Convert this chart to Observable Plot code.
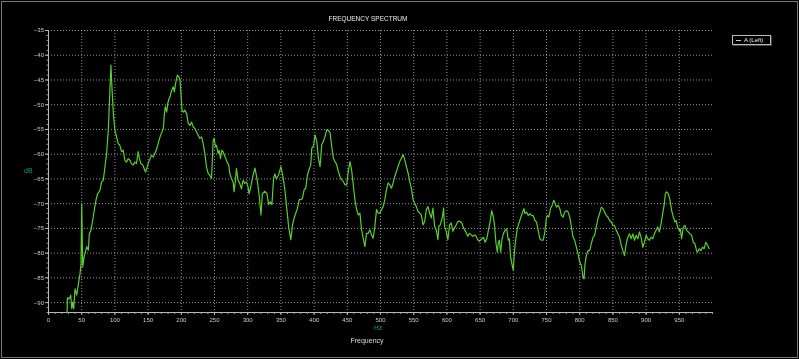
<!DOCTYPE html>
<html><head><meta charset="utf-8">
<script src="https://cdn.jsdelivr.net/npm/d3@7"></script>
<script src="https://cdn.jsdelivr.net/npm/@observablehq/plot@0.6"></script>
<style>
html,body{margin:0;padding:0;background:#000;}
#wrap{position:relative;width:799px;height:359px;background:#000;overflow:hidden;font-family:"Liberation Sans",Arial,sans-serif;opacity:0.999;will-change:transform;-webkit-font-smoothing:antialiased;}
.lbl{position:absolute;white-space:nowrap;line-height:1;}
#frame{position:absolute;left:1px;top:1px;width:795px;height:355px;border:1px solid #777;pointer-events:none;}
</style></head><body>
<div id="wrap">
<div id="chart"></div>
<div class="lbl" id="title" style="left:368px;top:16px;transform:translateX(-50%);font-size:6.5px;color:#eee;">FREQUENCY SPECTRUM</div>
<div class="lbl" id="ylab" style="left:24px;top:167px;font-size:7px;color:#1f9a90;">dB</div>
<div class="lbl" id="xunit" style="left:378px;top:325px;transform:translateX(-50%);font-size:6.5px;color:#1f9a90;">Hz</div>
<div class="lbl" id="xlab" style="left:367px;top:337px;transform:translateX(-50%);font-size:7px;color:#ddd;">Frequency</div>
<div class="lbl" id="legend" style="left:732px;top:35px;width:37px;height:8px;border:1px solid #bbb;background:#000;box-shadow:1px 1px 0 #444;">
  <span style="position:absolute;left:3px;top:4px;width:5px;height:1px;background:#ccc;"></span>
  <span style="position:absolute;left:11px;top:1px;font-size:6px;color:#eee;">A (Left)</span>
</div>
<div id="frame"></div>
</div>
<script>
const freqHz = [28,28.5,31,33.5,35,36.5,38,40,42.5,45,47.5,49,50,51.5,53.5,55,57.5,60,61.5,64,66.5,69,71.5,74,77.5,80,82.5,85,87.5,90,92.5,94,95.5,97.5,100,102.5,105,107.5,110,112.5,115,117.5,120,122.5,125,127.5,130,132.5,135,137,139,142,144,146,148,150,153,155,158,160,163,165,168,170,173,174.5,176,178,179.5,181.5,183,185.5,188,189.5,191.5,194,196.5,198,199.5,201,203,205.5,208,210.5,213,215.5,218,220.5,223,225.5,228,230.5,233,235.5,238,240.5,243,245.5,248,249.5,251.5,253,255.5,257,259,261,263,265,267,269,271.5,273,275.5,278,279.5,281.5,283,285.5,288,290.5,293,295.5,298,300.5,302,
304,308,311,314,317,320,322,326,329,331.5,334,336.5,339,341,343,346.5,350,353,356,359,362,365,367.5,370,372.5,375,377.5,380,382.5,385,387.5,390,392.5,395,396.5,399,401.5,404,406.5,409,411.5,414,416.5,419,421.5,424,426.5,429,431.5,434,436.5,439,441.5,444,446.5,449,451.5,454,456.5,459,461.5,464,466.5,469,471.5,474,476.5,479,481.5,484,486.5,489,491.5,494,496.5,499,501.5,504,506.5,509,511.5,514,516.5,519,521.5,524,526.5,529,531.5,534,536.5,539,541.5,544,546.5,549,551.5,554,556.5,559,561.5,564,566.5,569,571.5,574,576.5,579,581.5,584,586.5,588,590,593,595,596.5,599,601.5,604,606.5,609,611.5,614,616.5,620,622.5,625,628,631.5,634,636.5,639,641.5,644,646.5,649,
652.5,655,657.5,660,662.5,665,667.5,670,671.5,674,676,677.5,679,681,683,685,687.5,690,692.5,694,696,698,700,701.5,703.5,706,709,711.5,714,716,717.5,720,722.5,725,727.5,730,732.5,735,737.5,740,742.5,745,747.5,750,751.5,753.5,756,758.5,761,763,765,767.5,770,772.5,775,777.5,780,782.5,785,787.5,790,792.5,795,797.5,800,802.5,805,806.5,808,810,812.5,815,817.5,820,822.5,825,827.5,830,832.5,835,837.5,840,842.5,845,847.5,850,852.5,855,857.5,860,862.5,865,867.5,870,872.5,875,877.5,880,882.5,885,887.5,890,892.5,895,897.5,900,902.5,905,907.5,910,912.5,915,917.5,920,922.5,925,927.5,929,931,933.5,936,938.5,941,943.5,945,947.5,950,951.5,953.5,956,958.5,961,963.5,966,968.5,971,973.5,976,977.5,980,982.5,985,987.5,990,992.5,995];
const levelDb = [-92,-89,-89.3,-88.5,-91.2,-89.9,-91.2,-87.2,-88.5,-86.2,-84.1,-82.1,-70,-82.8,-80.8,-80.1,-78.7,-79.4,-76,-75.4,-73.4,-71.3,-69.3,-68,-67.3,-65.6,-65.3,-62.6,-59.9,-55.2,-47.1,-42,-46.4,-51.5,-55.2,-56.5,-57.9,-58.2,-59.5,-59.2,-61.2,-61.6,-60.9,-61.2,-61.9,-62.2,-61.6,-61.9,-59.5,-60.9,-61.9,-62.2,-62.9,-63.6,-62.9,-61.9,-60.9,-60.2,-60.6,-59.9,-58.9,-57.9,-56.5,-55.8,-54.8,-51.8,-50.4,-51.5,-49.8,-48.8,-48.4,-47.1,-46.4,-47.4,-45.7,-44,-44.4,-45.1,-47.7,-51.1,-51.5,-51.1,-51.8,-53.8,-54.2,-53.5,-54.5,-54.8,-55.5,-56.2,-56.8,-56.5,-57.9,-59.9,-62.6,-63.9,-64.3,-64.9,-57.2,-56.8,-58.5,-58.2,-59.9,-59.2,-60.9,-59.2,-59.5,-60.2,-60.9,-61.6,-62.2,-63.9,-64.9,-65.6,-67.6,-65.3,-62.9,-65.3,-65.9,-67,-65.3,-65.9,-65.6,-66.6,-68,
-67,-64.3,-62.8,-65,-68,-72.3,-68,-67.5,-68,-70.2,-69.6,-70.2,-64.8,-64,-65,-64.2,-62.5,-64.5,-67.2,-71.2,-75,-77.3,-74.3,-72.9,-71.9,-70.9,-69.2,-69.2,-68.9,-67.2,-66.9,-64.2,-63.1,-62.1,-58.8,-58.4,-56.1,-57.4,-60.8,-62.5,-58.1,-57.4,-56.4,-55.1,-55.2,-55.7,-58.4,-60.8,-61.5,-62.1,-63.5,-64.5,-65.2,-65.5,-66.2,-66.2,-63.5,-61.5,-63.2,-66.2,-69.2,-71.2,-72.3,-71.9,-75.3,-77,-78.7,-76,-76,-75.3,-76.3,-77,-74.6,-71.2,-71.9,-71.9,-71.2,-70.6,-69.2,-67.2,-65.8,-66.2,-66.9,-65.8,-64.5,-63.5,-62.5,-61.5,-60.8,-60.1,-61.1,-62.5,-63.8,-65.5,-66.9,-69.2,-69.9,-70.6,-71.6,-71.9,-72.3,-74.3,-73.6,-71.2,-70.6,-71.9,-72.9,-70.9,-74.6,-75.3,-77.3,-74.6,-74.3,-72.9,-70.9,-74.6,-75.6,-77.3,-74.3,-73.9,-75.6,-74.9,-74.3,-73.6,-73.6,-73.9,-74.9,-75.6,-76.6,-76,-76.3,-76.6,-76.3,-76.6,-77.3,-77.6,
-77.1,-76.8,-77.8,-77.1,-75.4,-73.7,-71.4,-72.7,-74.1,-78.1,-79.8,-77.8,-77.4,-79.8,-77.1,-76.1,-75.4,-75.1,-77.4,-77.1,-80.8,-82.2,-83.5,-80.1,-77.4,-75.1,-73.7,-72.7,-71.7,-71,-72,-71.7,-72.4,-72,-72.4,-72.4,-73.4,-73.7,-75.4,-77.1,-77.4,-77.4,-75.7,-72.7,-72.4,-72.7,-71,-70.3,-69.3,-70,-70.7,-70.3,-71,-72.4,-72.7,-71.7,-71.4,-71.7,-72.7,-74.7,-76.8,-77.4,-78.8,-80.1,-81.8,-82.5,-84.9,-85.2,-82.2,-80.5,-79.5,-79.5,-78.1,-76.8,-76.4,-74.7,-73,-72,-70.7,-71,-71.7,-72.4,-72.7,-73.4,-73.7,-74.4,-74.4,-75.4,-76.1,-76.8,-78.4,-79.5,-80.5,-78.1,-76.8,-76.1,-77.1,-76.1,-77.4,-76.4,-77.1,-75.7,-76.8,-78.8,-77.8,-76.4,-77.1,-77.4,-76.8,-77.1,-76.1,-75.4,-74.7,-75.7,-74.1,-72,-70,-68,-67.6,-68,-69.3,-71.4,-72.7,-73.7,-73.4,-74.7,-75.4,-75.1,-77.1,-74.7,-74.4,-75.4,-75.7,-76.1,-76.4,-77.8,-78.1,-79.5,-79.8,-79.1,-79.5,-78.8,-79.1,-77.8,-78.4,-79.1];
const xTicks = [0,50,100,150,200,250,300,350,400,450,500,550,600,650,700,750,800,850,900,950];
const yTicks = [-90,-85,-80,-75,-70,-65,-60,-55,-50,-45,-40,-35];
const xMinor = d3.range(0, 1001, 10);
const yMinor = d3.range(-92, -34, 1);

const spectrum = freqHz.map((f, i) => ({f, db: levelDb[i]}));
const gridStyle = {stroke: "#c8c8c8", strokeOpacity: 0.75, strokeDasharray: "1,2", strokeWidth: 1};

const chart = Plot.plot({
  width: 799, height: 359,
  marginLeft: 48, marginRight: 87, marginTop: 30, marginBottom: 47,
  style: {background: "#000", color: "#ccc", fontSize: "6px", fontFamily: "'Liberation Sans', Arial, sans-serif"},
  x: {domain: [0, 1000]},
  y: {domain: [-92, -35]},
  marks: [
    Plot.gridX(xTicks.filter(d => d > 0), gridStyle),
    Plot.gridY(yTicks, gridStyle),
    Plot.ruleX([0], {stroke: "#bbb"}),
    Plot.ruleY([-92], {stroke: "#bbb"}),
    Plot.axisX(xMinor, {tickSize: 2, text: null, stroke: "#aaa", label: null}),
    Plot.axisX(xTicks, {tickSize: 3, tickPadding: 2, fill: "#ccc", stroke: "#bbb", label: null}),
    Plot.axisY(yMinor, {tickSize: 1.5, text: null, stroke: "#999", label: null}),
    Plot.axisY(yTicks, {tickSize: 3, tickPadding: 1.5, fill: "#ccc", stroke: "#bbb", label: null}),
    Plot.line(spectrum, {x: "f", y: "db", stroke: "#5ad032", strokeWidth: 1.2})
  ]
});
document.getElementById("chart").appendChild(chart);
</script>
</body></html>
